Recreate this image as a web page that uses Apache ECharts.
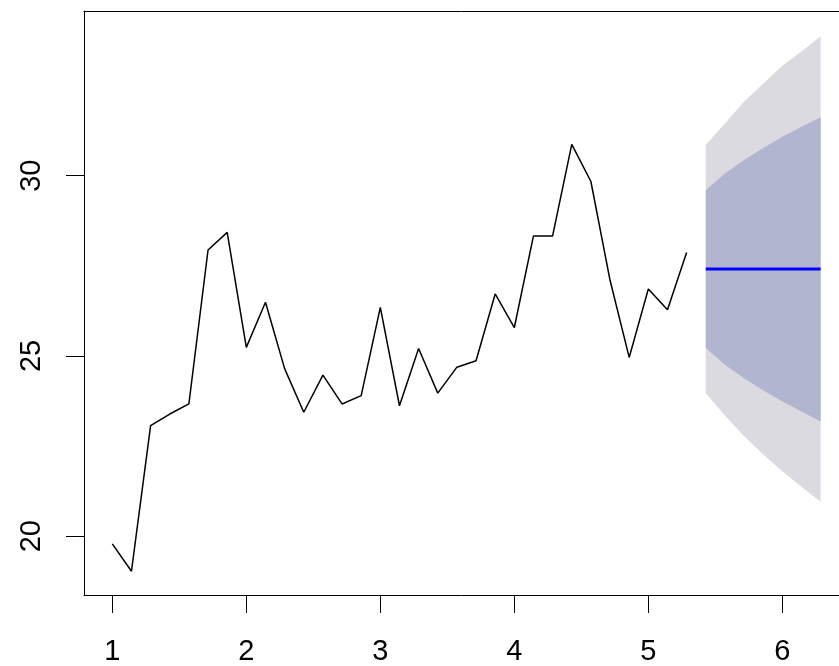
<!DOCTYPE html>
<html>
<head>
<meta charset="utf-8">
<script src="https://cdn.jsdelivr.net/npm/echarts@6/dist/echarts.min.js"></script>
<style>
html,body{margin:0;padding:0;background:#fff;}
#chart{width:839px;height:666px;}
</style>
</head>
<body>
<div id="chart"></div>
<script>
// Time series (frequency 7, starting at time 1)
const tsStart = 1;
const tsFreq = 7;
const observed = [19.79, 19.03, 23.07, 23.39, 23.67, 27.94, 28.43, 25.24, 26.49, 24.65,
                  23.44, 24.47, 23.67, 23.90, 26.35, 23.62, 25.21, 23.97, 24.69, 24.87,
                  26.72, 25.79, 28.33, 28.33, 30.87, 29.84, 27.10, 24.96, 26.86, 26.28, 27.87];
// Forecast (7 steps ahead)
const fcMean  = [27.41, 27.41, 27.41, 27.41, 27.41, 27.41, 27.41];
const fcLo80  = [25.22, 24.76, 24.38, 24.05, 23.74, 23.46, 23.18];
const fcHi80  = [29.60, 30.06, 30.44, 30.77, 31.08, 31.36, 31.62];
const fcLo95  = [23.97, 23.35, 22.78, 22.27, 21.80, 21.37, 20.96];
const fcHi95  = [30.85, 31.45, 32.05, 32.55, 33.05, 33.45, 33.87];
// Tick labels
const xTicks = [1, 2, 3, 4, 5, 6];
const yTicks = [20, 25, 30];

const obsTime = observed.map((v, i) => tsStart + i / tsFreq);
const fcTime = fcMean.map((v, i) => tsStart + (observed.length + i) / tsFreq);

const obsData = observed.map((v, i) => [obsTime[i], v]);
const meanData = fcMean.map((v, i) => [fcTime[i], v]);
const bandData = fcMean.map((v, i) => [fcTime[i], fcLo95[i], fcHi95[i], fcLo80[i], fcHi80[i]]);

const chart = echarts.init(document.getElementById('chart'), null, {renderer: 'canvas'});
const labelFont = {fontFamily: 'Liberation Sans, Arial, sans-serif', fontSize: 29, color: '#000'};

chart.setOption({
  animation: false,
  backgroundColor: '#ffffff',
  grid: {
    left: 84, top: 11, width: 755, height: 585,
    show: false,
    containLabel: false
  },
  xAxis: [{
    type: 'value',
    min: 0.7886, max: 6.4229,
    axisLine: {show: true, onZero: false, lineStyle: {color: '#000', width: 1}},
    axisTick: {show: true, inside: false, length: 18, lineStyle: {color: '#000', width: 1}, customValues: xTicks},
    axisLabel: Object.assign({show: true, margin: 42, customValues: xTicks, formatter: v => String(v)}, labelFont),
    splitLine: {show: false}
  }, {
    type: 'value',
    position: 'top',
    min: 0.7886, max: 6.4229,
    axisLine: {show: true, onZero: false, lineStyle: {color: '#000', width: 1}},
    axisTick: {show: false},
    axisLabel: {show: false},
    splitLine: {show: false}
  }],
  yAxis: {
    type: 'value',
    min: 18.37, max: 34.57,
    axisLine: {show: true, onZero: false, lineStyle: {color: '#000', width: 1}},
    axisTick: {show: true, inside: false, length: 18, lineStyle: {color: '#000', width: 1}, customValues: yTicks},
    axisLabel: Object.assign({show: true, rotate: 90, margin: 38, customValues: yTicks, formatter: v => String(v)}, labelFont),
    splitLine: {show: false}
  },
  series: [
    {
      type: 'custom',
      silent: true,
      z: 1,
      data: bandData,
      encode: {x: 0, y: [1, 2]},
      renderItem: function (params, api) {
        if (params.dataIndex !== 0) return null;
        const outer = [], inner = [];
        for (let i = 0; i < fcTime.length; i++) outer.push(api.coord([fcTime[i], fcHi95[i]]));
        for (let i = fcTime.length - 1; i >= 0; i--) outer.push(api.coord([fcTime[i], fcLo95[i]]));
        for (let i = 0; i < fcTime.length; i++) inner.push(api.coord([fcTime[i], fcHi80[i]]));
        for (let i = fcTime.length - 1; i >= 0; i--) inner.push(api.coord([fcTime[i], fcLo80[i]]));
        return {
          type: 'group',
          children: [
            {type: 'polygon', shape: {points: outer}, style: {fill: '#DADAE0', stroke: null}},
            {type: 'polygon', shape: {points: inner}, style: {fill: '#B1B5D0', stroke: null}}
          ]
        };
      }
    },
    {
      type: 'line',
      data: obsData,
      showSymbol: false,
      symbol: 'none',
      z: 3,
      lineStyle: {color: '#000', width: 1.5},
      silent: true
    },
    {
      type: 'line',
      data: meanData,
      showSymbol: false,
      symbol: 'none',
      z: 4,
      lineStyle: {color: '#0000FF', width: 3},
      silent: true
    }
  ]
});
</script>
</body>
</html>
